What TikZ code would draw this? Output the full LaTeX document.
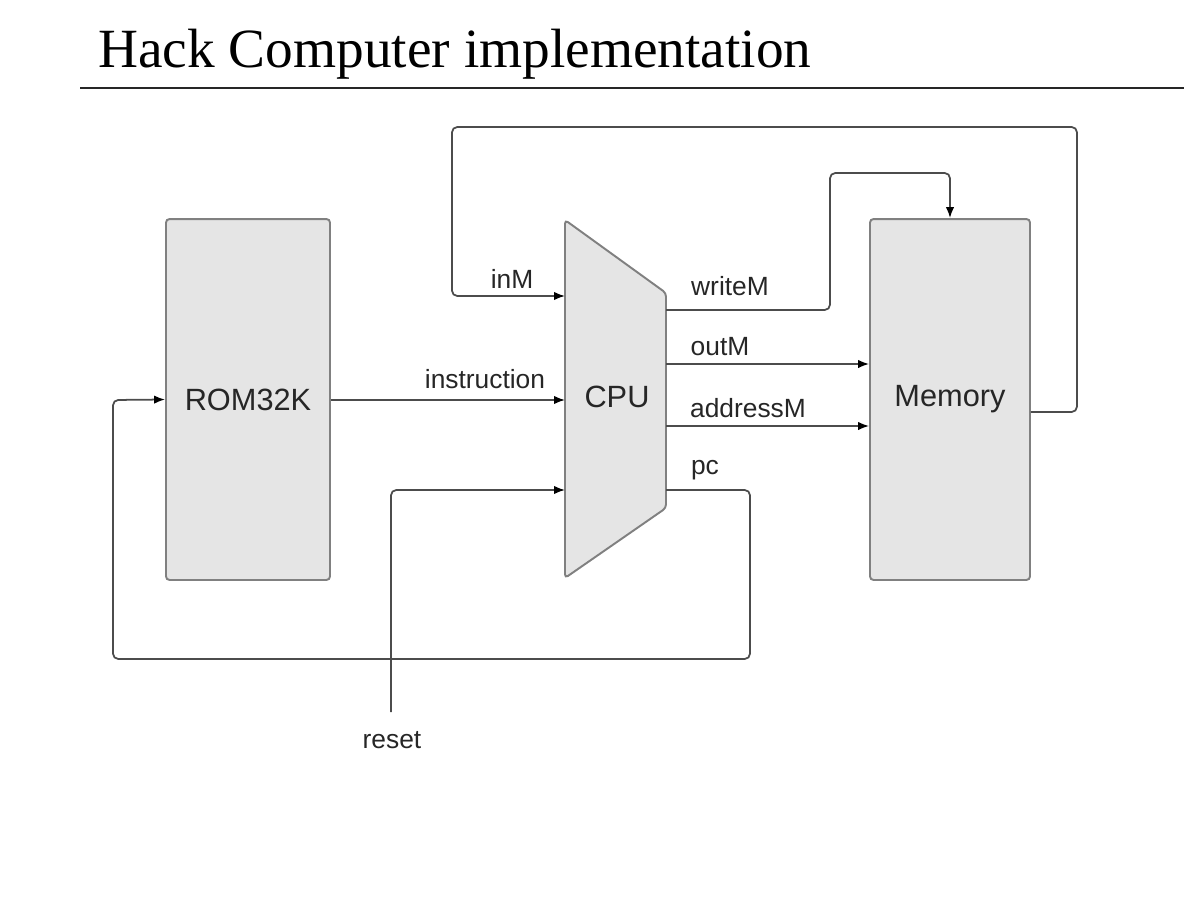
\documentclass[tikz,border=0pt]{standalone}
\usepackage{fontspec}
\setmainfont{Liberation Serif}
\setsansfont{Liberation Sans}
\usetikzlibrary{arrows.meta}

\begin{document}
\begin{tikzpicture}[x=0.02cm,y=-0.02cm]
    \tikzstyle{every node}+=[font=\sffamily\fontsize{17.5}{20}\selectfont,text=black!85]
    \tikzstyle{chip}=[draw=black!50,fill=black!10,line width=1.1pt,rounded corners=2pt]
    \tikzstyle{wire}=[draw=black!70,line width=1pt,rounded corners=3pt]
    \tikzstyle{port}=[-{Latex[length=2.2mm,width=1.7mm,black]}]
    \tikzstyle{sig}=[font=\sffamily\fontsize{15}{18}\selectfont,inner sep=0pt]
    \useasboundingbox (0,0) rectangle (1184,909);
    \node [anchor=base west,inner sep=0pt,text=black,font=\rmfamily\fontsize{31.5}{38}\selectfont] (title) at (98,68) {Hack Computer implementation};
    \coordinate (rulel) at (80,88);
    \coordinate (ruler) at (1184,88);
    \draw [black!85,line width=1.6pt] (rulel) -- (ruler);
    \node [chip,minimum width=3.28cm,minimum height=7.22cm] (rom) at (248,399.5) {ROM32K};
    \node [chip,minimum width=3.2cm,minimum height=7.22cm] (mem) at (950,399.5) {Memory};
    \coordinate (cputl) at (565,220);
    \coordinate (cputr) at (666,293);
    \coordinate (cpubr) at (666,508);
    \coordinate (cpubl) at (565,578);
    \draw [chip] (cputl) -- (cputr) -- (cpubr) -- (cpubl) -- cycle;
    \node (cpu) at (617,397) {CPU};
    \coordinate (inM) at (565,296);
    \coordinate (instr) at (565,400);
    \coordinate (rst) at (565,490);
    \coordinate (wrM) at (666,310);
    \coordinate (outM) at (666,364);
    \coordinate (adrM) at (666,426);
    \coordinate (pc) at (666,490);
    \coordinate (rstin) at (391,712);
    \draw [wire,port] (mem.east |- 0,412) -- ++(46,0) |- (452,127) |- (inM);
    \draw [wire,port] (wrM) -| (830,173) -| (mem.north);
    \draw [wire,port] (outM) -- (mem.west |- outM);
    \draw [wire,port] (adrM) -- (mem.west |- adrM);
    \draw [wire,port] (rom.east |- instr) -- (instr);
    \draw [wire,port] (pc) -| (750,659) -| (113,400) -- (rom.west);
    \draw [wire,port] (rstin) |- (rst);
    \node [sig] (lblinM) at (512,279) {inM};
    \node [sig] (lblwrM) at (730,286) {writeM};
    \node [sig] (lbloutM) at (720,347) {outM};
    \node [sig] (lbladrM) at (748,408) {addressM};
    \node [sig] (lblinstr) at (485,379) {instruction};
    \node [sig] (lblpc) at (705,470) {pc};
    \node [sig] (reset) at (392,740) {reset};
\end{tikzpicture}
\end{document}
